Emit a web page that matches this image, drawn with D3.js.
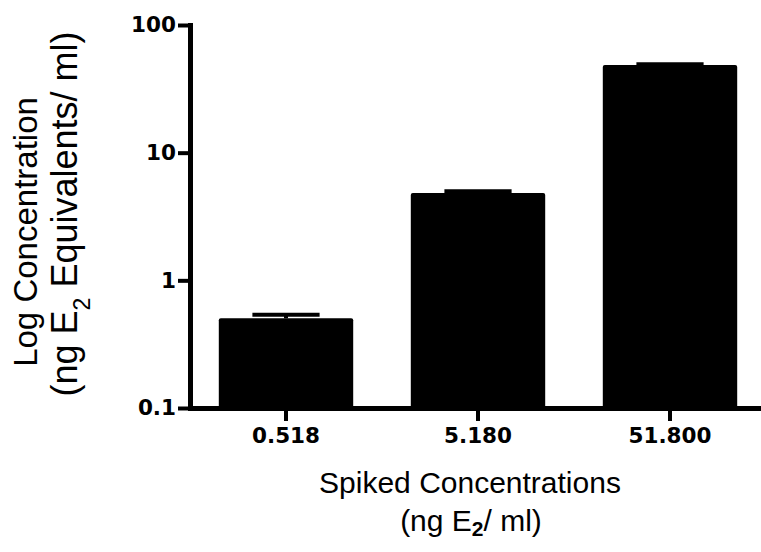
<!DOCTYPE html>
<html>
<head>
<meta charset="utf-8">
<script src="https://cdn.jsdelivr.net/npm/d3@7.9.0/dist/d3.min.js"></script>
<style>
  body { margin: 0; background: #fff; }
  svg { display: block; font-family: "Liberation Sans", Arial, sans-serif; }
</style>
</head>
<body>
<div id="chart"></div>
<script>
const categories = ["0.518", "5.180", "51.800"];
const means = [0.504, 4.83, 48.5];
const errors = [0.034, 0.15, 0.8];
const yTicks = [0.1, 1, 10, 100];

const width = 761;
const height = 552;
const margin = {top: 25, right: -5, bottom: 144, left: 190};

const x = d3.scaleBand()
    .domain(categories)
    .range([margin.left, width - margin.right])
    .paddingInner(0.3)
    .paddingOuter(0.15);

const y = d3.scaleLog()
    .domain([0.1, 100])
    .range([height - margin.bottom, margin.top]);

const data = categories.map((c, i) => ({cat: c, mean: means[i], err: errors[i]}));

const svg = d3.select("#chart").append("svg")
    .attr("width", width)
    .attr("height", height);

// bars
svg.selectAll(".bar")
    .data(data)
    .enter()
    .append("rect")
    .attr("class", "bar")
    .attr("x", d => x(d.cat))
    .attr("y", d => y(d.mean))
    .attr("width", x.bandwidth())
    .attr("height", d => y(0.1) - y(d.mean))
    .attr("rx", 2)
    .attr("fill", "#000");

// error bars (upper only)
const capW = x.bandwidth() / 2;
svg.selectAll(".err")
    .data(data)
    .enter()
    .append("line")
    .attr("x1", d => x(d.cat) + x.bandwidth() / 2 - capW / 2)
    .attr("x2", d => x(d.cat) + x.bandwidth() / 2 + capW / 2)
    .attr("y1", d => y(d.mean + d.err))
    .attr("y2", d => y(d.mean + d.err))
    .attr("stroke", "#000")
    .attr("stroke-width", 4);

svg.selectAll(".errv")
    .data(data)
    .enter()
    .append("line")
    .attr("x1", d => x(d.cat) + x.bandwidth() / 2)
    .attr("x2", d => x(d.cat) + x.bandwidth() / 2)
    .attr("y1", d => y(d.mean))
    .attr("y2", d => y(d.mean + d.err))
    .attr("stroke", "#000")
    .attr("stroke-width", 4);

// axes
const yAxis = svg.append("g")
    .attr("transform", `translate(${margin.left},0)`)
    .call(d3.axisLeft(y)
        .tickValues(yTicks)
        .tickFormat(d3.format("~g"))
        .tickSize(12)
        .tickSizeOuter(0)
        .tickPadding(2));

const xAxis = svg.append("g")
    .attr("transform", `translate(0,${height - margin.bottom})`)
    .call(d3.axisBottom(x)
        .tickSize(13)
        .tickSizeOuter(0)
        .tickPadding(7));

[yAxis, xAxis].forEach(g => {
    g.select(".domain").attr("stroke-width", 5).attr("stroke-linecap", "square");
    g.selectAll(".tick line").attr("stroke-width", 4);
    g.selectAll(".tick text")
        .attr("fill", "#000")
        .style("font-family", "'DejaVu Sans', sans-serif")
        .style("font-size", "21.5px")
        .style("font-weight", "bold");
});

// y axis title
const yt = svg.append("g").attr("fill", "#000");
yt.append("text")
    .attr("transform", "translate(37,232) rotate(-90)")
    .attr("text-anchor", "middle")
    .style("font-size", "33px")
    .text("Log Concentration");
const yt2 = yt.append("text")
    .attr("transform", "translate(77,214) rotate(-90)")
    .attr("text-anchor", "middle")
    .style("font-size", "36px");
yt2.append("tspan").text("(ng E");
yt2.append("tspan").attr("baseline-shift", "sub").style("font-size", "23px").text("2");
yt2.append("tspan").text(" Equivalents/ ml)");

// x axis title
const xt = svg.append("g").style("font-size", "30px").attr("fill", "#000");
xt.append("text")
    .attr("x", 470)
    .attr("y", 493)
    .attr("text-anchor", "middle")
    .text("Spiked Concentrations");
const xt2 = xt.append("text")
    .attr("x", 471)
    .attr("y", 531)
    .attr("text-anchor", "middle");
xt2.append("tspan").text("(ng E");
xt2.append("tspan").attr("dy", 5).style("font-size", "21px").style("font-weight", "bold").text("2");
xt2.append("tspan").attr("dy", -5).text("/ ml)");
</script>
</body>
</html>
